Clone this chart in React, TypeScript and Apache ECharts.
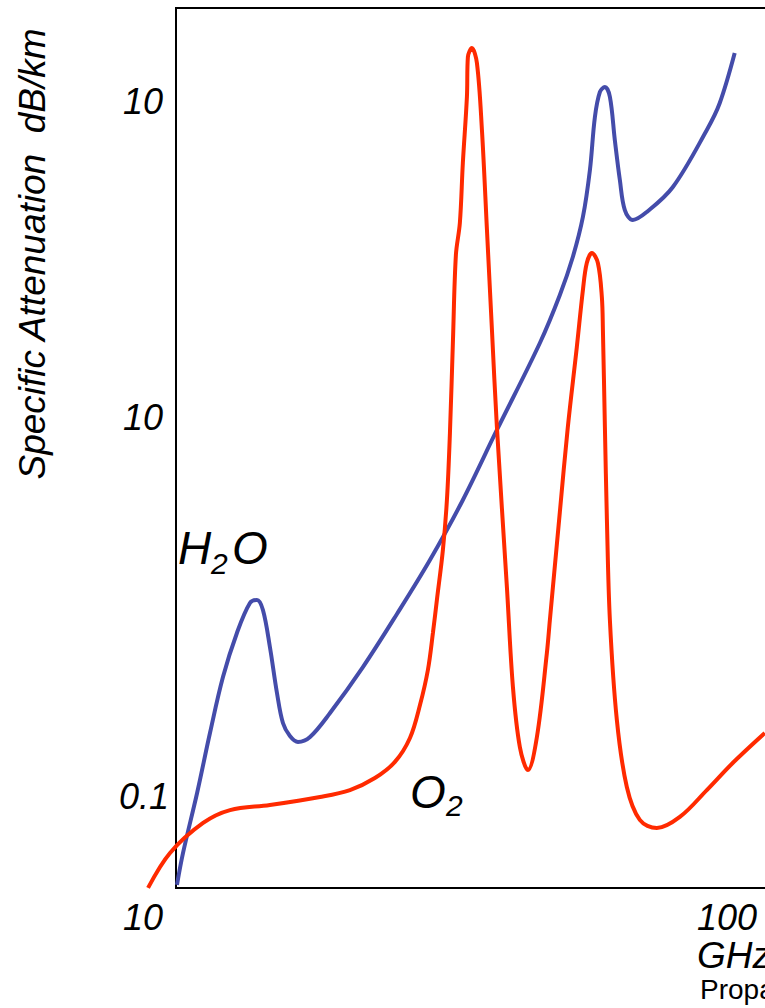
import React, { useEffect, useRef } from "react";
import * as echarts from "echarts";

// Frequency (GHz) and specific attenuation (dB/km)
const h2oFreq = [10.04, 10.3, 10.93, 11.54, 12.19, 12.93, 13.66, 14.07, 14.43, 14.86, 15.31, 15.7, 16.17, 16.73, 17.6, 19.15, 22.0, 25.4, 29.19, 33.54, 38.72, 46.42, 50.5, 53.34, 55.66, 57.33, 58.55, 59.8, 61.07, 62.37, 63.68, 65.05, 66.43, 68.71, 72.88, 81.35, 93.88, 99.15, 105.6];
const h2oAtten = [0.0558, 0.069, 0.1027, 0.1529, 0.2217, 0.297, 0.3623, 0.3696, 0.3458, 0.2706, 0.1994, 0.1634, 0.1499, 0.1441, 0.1489, 0.1746, 0.2368, 0.3369, 0.4819, 0.7177, 1.142, 2.034, 2.797, 3.599, 4.694, 6.411, 9.114, 10.76, 11.12, 10.41, 7.824, 6.0, 4.916, 4.601, 4.852, 5.726, 8.361, 10.0, 13.93];

const o2Freq = [8.887, 9.75, 11.21, 12.56, 14.86, 18.36, 20.83, 23.14, 25.18, 26.83, 27.99, 28.94, 29.56, 30.06, 30.83, 31.36, 31.76, 32.17, 32.57, 33.12, 33.54, 34.12, 34.26, 34.84, 35.59, 36.35, 37.13, 37.92, 38.72, 40.39, 41.43, 42.66, 44.13, 45.84, 47.81, 48.42, 50.5, 52.23, 54.25, 55.66, 56.58, 57.81, 59.29, 60.29, 60.56, 61.07, 61.59, 62.37, 64.23, 66.99, 70.76, 76.03, 83.78, 93.88, 104.7, 119.9];
const o2Atten = [0.0547, 0.069, 0.0842, 0.0917, 0.0948, 0.1, 0.1047, 0.1134, 0.1262, 0.1479, 0.1841, 0.2323, 0.297, 0.3696, 0.5149, 0.7177, 1.119, 2.075, 3.648, 4.511, 6.716, 10.41, 13.57, 14.4, 13.04, 8.361, 4.305, 2.217, 1.165, 0.4028, 0.2075, 0.1393, 0.1196, 0.1489, 0.26, 0.3237, 0.6628, 1.165, 1.981, 2.892, 3.458, 3.696, 3.458, 2.76, 2.217, 1.165, 0.6288, 0.3237, 0.1667, 0.1069, 0.0859, 0.0814, 0.0876, 0.1047, 0.1253, 0.1529];

const yTickLabels = ["10", "10", "0.1"];
const xTickLabels = ["10", "100"];

const FONT = "'Liberation Sans', Arial, Helvetica, sans-serif";

export default function App() {
  const ref = useRef<HTMLDivElement>(null);
  useEffect(() => {
    document.body.style.margin = "0";
    const chart = echarts.init(ref.current!, undefined, { renderer: "svg" });
    const txt = (text: string, x: number, y: number, size: number, align: string, extra: any = {}) => ({
      type: "text",
      x,
      y,
      z: 10,
      style: {
        text,
        fill: "#000",
        font: `${extra.normal ? "normal" : "italic"} ${size}px ${FONT}`,
        align,
        verticalAlign: "middle",
      },
      ...(extra.rotation ? { rotation: extra.rotation } : {}),
    });
    chart.setOption({
      animation: false,
      backgroundColor: "#fff",
      grid: { left: 137.5, top: 32.17, right: 0, height: 869.29, show: false },
      xAxis: { type: "log", logBase: 10, min: 8.5, max: 120, show: false },
      yAxis: { type: "log", logBase: 10, min: 0.05, max: 16, show: false },
      series: [
        {
          name: "H2O",
          type: "line",
          data: h2oFreq.map((f, i) => [f, h2oAtten[i]]),
          showSymbol: false,
          smooth: 0.35,
          clip: false,
          lineStyle: { color: "#444CAA", width: 4 },
          z: 3,
        },
        {
          name: "O2",
          type: "line",
          data: o2Freq.map((f, i) => [f, o2Atten[i]]),
          showSymbol: false,
          smooth: 0.35,
          clip: false,
          lineStyle: { color: "#FF2A00", width: 4 },
          z: 4,
        },
      ],
      graphic: [
        {
          type: "rect",
          shape: { x: 176, y: 8, width: 720, height: 880 },
          style: { fill: "none", stroke: "#000", lineWidth: 2 },
          z: 1,
        },
        txt(yTickLabels[0], 163, 101, 36, "right"),
        txt(yTickLabels[1], 163, 417, 36, "right"),
        txt(yTickLabels[2], 169, 796, 36, "right"),
        txt(xTickLabels[0], 163, 917, 36, "right"),
        txt(xTickLabels[1], 697, 917, 36, "left"),
        txt("GHz", 697, 955, 37, "left"),
        txt("Propagation", 700, 989, 28, "left", { normal: true }),
        txt("Specific Attenuation  dB/km", 32, 254, 37, "center", { rotation: Math.PI / 2 }),
        txt("H", 178, 548, 46, "left"),
        txt("2", 211, 563, 30, "left"),
        txt("O", 232, 548, 46, "left"),
        txt("O", 410, 792, 46, "left"),
        txt("2", 446, 805, 30, "left"),
      ],
    });
    return () => chart.dispose();
  }, []);
  return <div ref={ref} style={{ position: "absolute", left: 0, top: 0, width: 765, height: 1008 }} />;
}
